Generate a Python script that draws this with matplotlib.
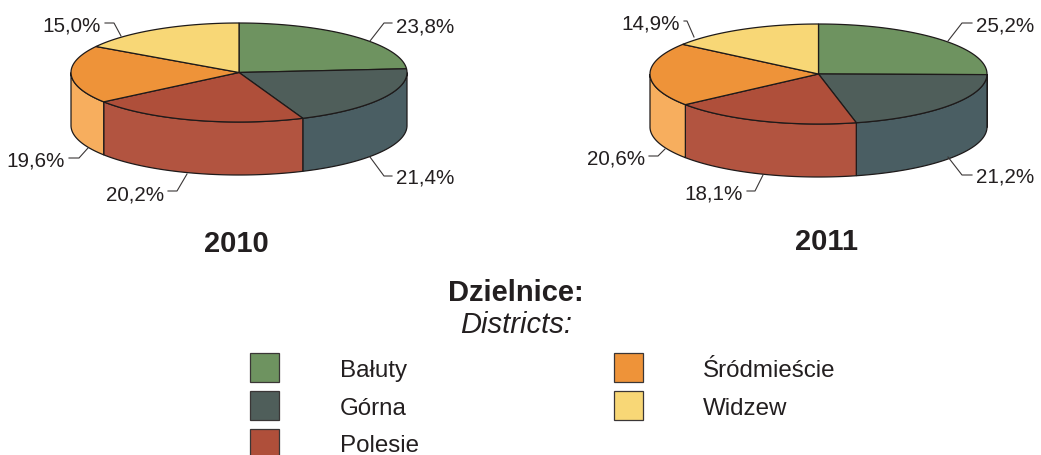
import numpy as np
import matplotlib
matplotlib.use("Agg")
import matplotlib.pyplot as plt
from matplotlib.patches import Polygon, Rectangle

districts = ["Bałuty", "Górna", "Polesie", "Śródmieście", "Widzew"]
shares_2010 = [23.8, 21.4, 20.2, 19.6, 15.0]
shares_2011 = [25.2, 21.2, 18.1, 20.6, 14.9]
# The 2010 pie in the reference is not drawn to its printed labels;
drawn_shares_2010 = [23.8, 20.0, 21.1, 18.9, 16.2]
years = ["2010", "2011"]

top_colors = ["#6E9360", "#4F5E5A", "#AF4F3A", "#EE9339", "#F8D776"]
side_colors = ["#6E9360", "#4A5E63", "#B25440", "#F7AE5E", "#F8D776"]
edge = "#1E1A1A"
text_color = "#231F20"
plt.rcParams["font.family"] = ["Liberation Sans", "DejaVu Sans"]

W, H = 1041, 456
fig = plt.figure(figsize=(W / 100, H / 100), dpi=100)
ax = fig.add_axes([0, 0, 1, 1])
ax.set_xlim(0, W)
ax.set_ylim(H, 0)
ax.axis("off")


def pt(c, t, dy=0):
    cx, cy, rx, ry = c
    return np.column_stack([cx + rx * np.sin(t), cy - ry * np.cos(t) + dy])


def pie(values, c, depth):
    bounds = np.radians(np.cumsum([0] + list(values)) * 3.6)
    # walls: only the front half of the rim is visible
    for i in range(len(values)):
        a, b = max(bounds[i], np.pi / 2), min(bounds[i + 1], 1.5 * np.pi)
        if b <= a:
            continue
        t = np.linspace(a, b, 120)
        poly = np.vstack([pt(c, t), pt(c, t[::-1], depth)])
        ax.add_patch(Polygon(poly, closed=True, fc=side_colors[i], ec=edge, lw=0.9, zorder=2))
    # top faces
    for i in range(len(values)):
        t = np.linspace(bounds[i], bounds[i + 1], 160)
        poly = np.vstack([[c[0], c[1]], pt(c, t)])
        ax.add_patch(Polygon(poly, closed=True, fc=top_colors[i], ec=edge, lw=0.9, zorder=3))


def leader(xs, ys):
    ax.plot(xs, ys, color="#3A3636", lw=0.8, zorder=4, solid_joinstyle="miter")


def fmt(v):
    return f"{v:.1f}%".replace(".", ",")


geom = {
    "2010": dict(c=(239, 73.5, 168, 49.5), depth=53, title=(236, 241)),
    "2011": dict(c=(818.5, 75, 168.5, 50), depth=53, title=(826, 239)),
}
pie(drawn_shares_2010, geom["2010"]["c"], 53)
pie(shares_2011, geom["2011"]["c"], 53)

leaders_2010 = [
    ((370, 42), (384, 24), (392, 24), 396, 25, "left"),
    ((370, 158), (384, 177), (392, 177), 396, 176, "left"),
    ((187, 175), (177, 192), (168, 192), 164, 193, "right"),
    ((88, 149), (79, 159), (69, 159), 65, 159, "right"),
    ((121, 37), (114, 24), (105, 24), 101, 24, "right"),
]
leaders_2011 = [
    ((948, 42), (962, 24), (972, 24), 976, 24, "left"),
    ((948, 158), (962, 176), (972, 176), 976, 175, "left"),
    ((763, 176), (755, 192), (747, 192), 743, 192, "right"),
    ((665, 150), (658, 157), (649, 157), 645, 157, "right"),
    ((694, 38), (687, 22), (684, 22), 680, 22, "right"),
]
for vals, leads in ((shares_2010, leaders_2010), (shares_2011, leaders_2011)):
    for v, (p0, p1, p2, tx, ty, ha) in zip(vals, leads):
        leader([p0[0], p1[0], p2[0]], [p0[1], p1[1], p2[1]])
        ax.text(tx, ty, fmt(v), ha=ha, va="center_baseline", fontsize=14.9, color=text_color)

for y in years:
    tx, ty = geom[y]["title"]
    ax.text(tx, ty, y, ha="center", va="center_baseline", fontsize=21, fontweight="bold", color=text_color)

ax.text(516, 290, "Dzielnice:", ha="center", va="center_baseline", fontsize=21, fontweight="bold", color=text_color)
ax.text(516, 322, "Districts:", ha="center", va="center_baseline", fontsize=21, style="italic", color=text_color)

slots = [(250, 354, 340, 377), (250, 392, 340, 415), (250, 430, 340, 452),
         (614, 354, 703, 377), (614, 392, 703, 415)]
for name, col, (sx, sy, tx, ty) in zip(districts, top_colors, slots):
    ax.add_patch(Rectangle((sx, sy), 29, 29, fc=col, ec="#3A3636", lw=0.9, zorder=2))
    ax.text(tx, ty, name, ha="left", va="baseline", fontsize=17.4, color=text_color)

fig.savefig("out.png", dpi=100)
